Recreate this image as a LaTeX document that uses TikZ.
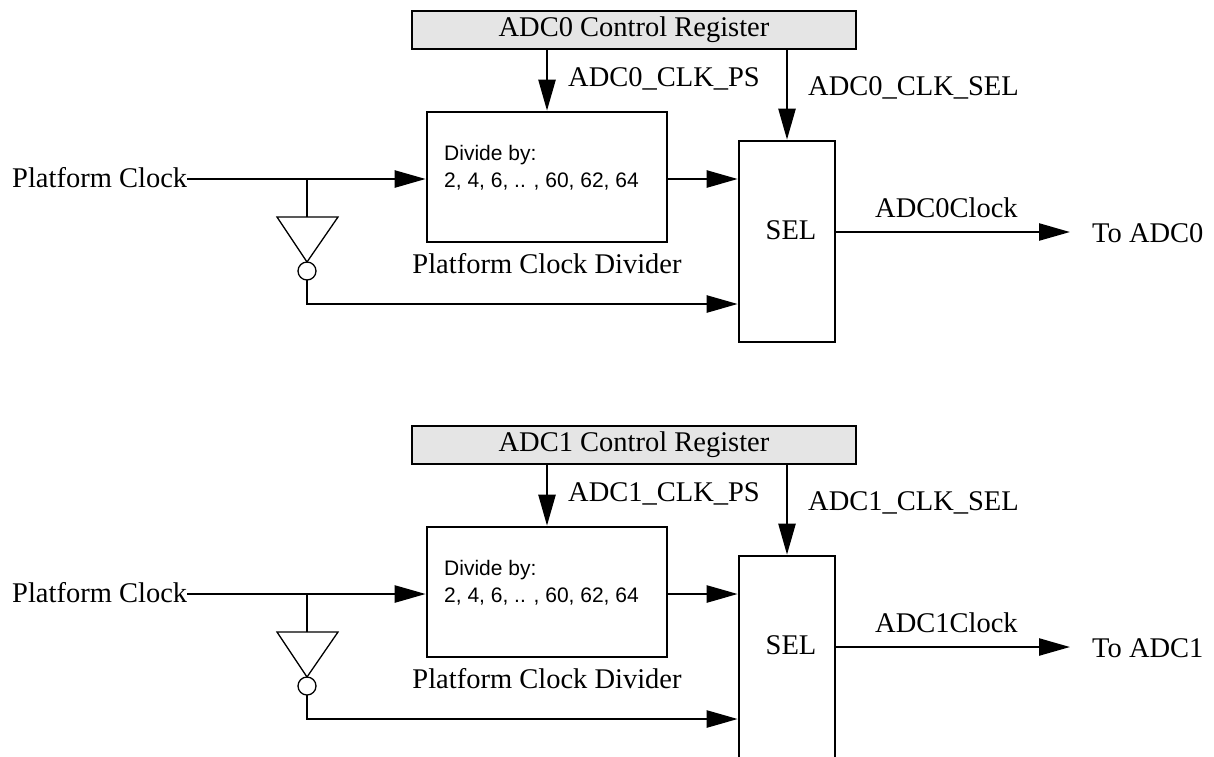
\documentclass[tikz,border=0pt]{standalone}
\usepackage{fontspec}
\setmainfont{Liberation Serif}
\newfontfamily\arialfont{Liberation Sans}
\usetikzlibrary{arrows.meta}
\begin{document}
\begin{tikzpicture}[x=1pt,y=-1pt,
  wire/.style={line width=2.4pt},
  arr/.style={wire,-{Triangle[length=31pt,width=17pt]}},
  box/.style={draw,line width=2.6pt,inner sep=0pt},
  regbox/.style={box,fill=gray!20,minimum width=444pt,minimum height=38pt},
  lbl/.style={font=\fontsize{28.5}{34}\selectfont,inner sep=0pt},
  small/.style={font=\arialfont\fontsize{21}{26}\selectfont,inner sep=0pt},
  thinline/.style={line width=1.3pt}]
\useasboundingbox (0,0) rectangle (1214,756);
\foreach \i/\dy in {0/0,1/415}{
 \begin{scope}[yshift=-\dy pt]
  % boxes
  \node[regbox,lbl] (cr\i) at (634,30) {ADC\i{} Control Register};
  \node[box,minimum width=240pt,minimum height=130pt] (div\i) at (547,177) {};
  \node[box,minimum width=96pt,minimum height={201pt+12pt*\i}] (sel\i) at (787,{241.5+6*\i}) {};
  % texts
  \node[lbl,anchor=base] (selt\i) at (791,239) {SEL};
  \node[small,anchor=base west] (dv\i) at (444,160) {Divide by:};
  \node[small,anchor=base west] (dl\i) at (444,187) {2, 4, 6, .. , 60, 62, 64};
  \node[lbl,anchor=base] (pcd\i) at (547,273) {Platform Clock Divider};
  \node[lbl,anchor=base west] (pc\i) at (12,187) {Platform Clock};
  \node[lbl,anchor=base west] (ps\i) at (568,86) {ADC\i\_CLK\_PS};
  \node[lbl,anchor=base west] (sl\i) at (808,95) {ADC\i\_CLK\_SEL};
  \node[lbl,anchor=base west] (ck\i) at (875,217) {ADC\i Clock};
  \node[lbl,anchor=base west] (to\i) at (1092,242) {To ADC\i};
  % inverter
  \coordinate (in\i) at (307,179);
  \coordinate (tt\i) at (307,217);
  \coordinate (low\i) at (739,304);
  \coordinate (out\i) at (1070,232);
  \draw[thinline] (277,217) -- (338,217) -- (307,262) -- cycle;
  \node[draw,thinline,circle,minimum size=18pt,inner sep=0pt,outer sep=0pt] (bub\i) at (307,271) {};
  % connectors
  \draw[arr] (pc\i.east |- in\i) -- (div\i.west |- in\i);
  \draw[wire] (in\i) -- (tt\i);
  \draw[arr] (div\i.east |- in\i) -- (sel\i.west |- in\i);
  \draw[arr] (bub\i.south) |- (sel\i.west |- low\i);
  \draw[arr] (cr\i.south -| div\i.north) -- (div\i.north);
  \draw[arr] (cr\i.south -| sel\i.north) -- (sel\i.north);
  \draw[arr] (sel\i.east |- out\i) -- (out\i);
 \end{scope}
}
\end{tikzpicture}
\end{document}
